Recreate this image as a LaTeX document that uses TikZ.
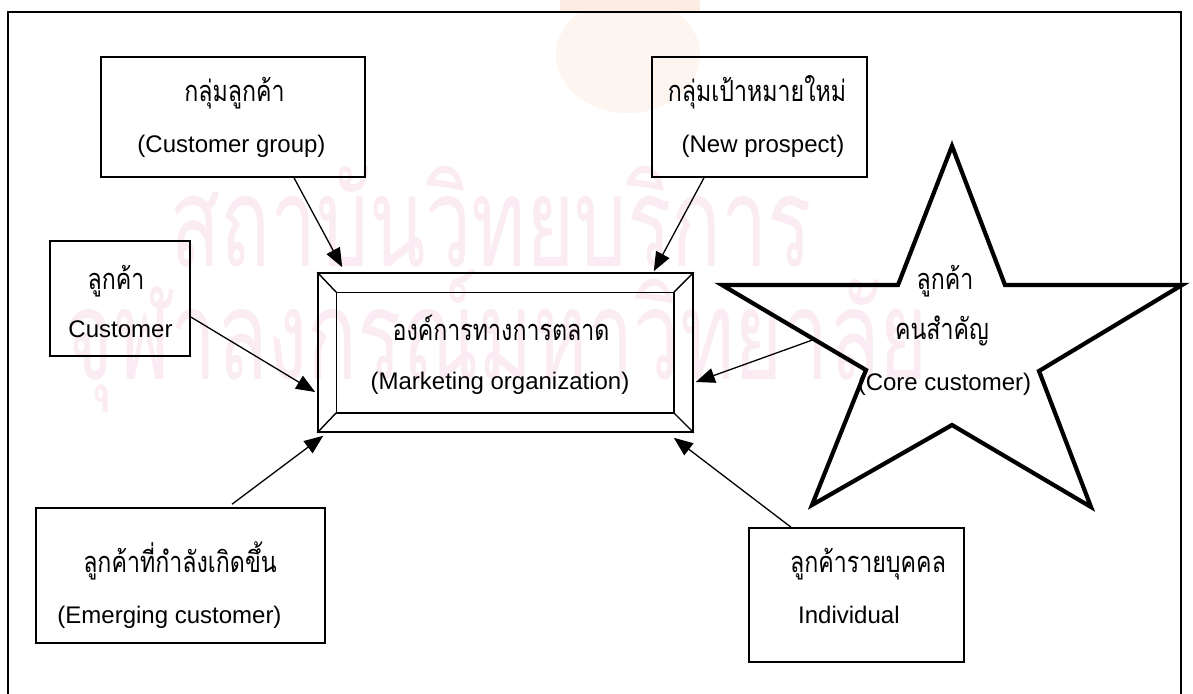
\documentclass[tikz,border=0pt]{standalone}
\usepackage{fontspec}
\setmainfont{Liberation Sans}
\newfontfamily\thaifont[Script=Thai,FakeStretch=0.8]{Loma}
\newfontfamily\wmfont[Script=Thai,FakeStretch=0.66]{Loma}
\newcommand\thaisz{\thaifont\fontsize{29}{33}\selectfont}
\newcommand\latsz{\fontsize{24}{28}\selectfont}
\newcommand\wmsz{\wmfont\fontsize{125}{135}\selectfont}
\usetikzlibrary{arrows.meta,calc}
\definecolor{wmpink}{RGB}{250,236,242}
\definecolor{crest}{RGB}{253,246,240}
\definecolor{crestband}{RGB}{251,236,228}
\begin{document}
\begin{tikzpicture}[x=1pt,y=-1pt,
  frame/.style={draw,line width=1.6pt},
  box/.style={draw,line width=1.6pt,inner sep=0pt},
  bevel/.style={line width=1.4pt},
  starline/.style={line width=4.2pt,line join=miter},
  link/.style={line width=1.3pt,-{Triangle[length=19pt,width=15pt]}},
  thl/.style={inner sep=0pt,anchor=base,font=\thaisz},
  enl/.style={inner sep=0pt,anchor=base,font=\latsz},
  wm/.style={inner sep=0pt,anchor=base,text=wmpink,font=\wmsz}]

\clip (0,0) rectangle (1193,693);
\fill[white] (0,0) rectangle (1193,693);

% faded crest and background lettering
\fill[crest] (628,55) ellipse (72 and 58);
\fill[crestband] (560,0) rectangle (700,11);
\node[wm] (wm1) at (491,266) {สถาบันวิทยบริการ};
\node[wm] (wm2) at (497,379) {จุฬาลงกรณ์มหาวิทยาลัย};

% outer frame
\draw[frame] (8,12) rectangle (1181,712);

% boxes
\node[box,minimum width=264pt,minimum height=120pt] (cg) at (233,117) {};
\node[box,minimum width=215pt,minimum height=120pt] (np) at (759.5,117) {};
\node[box,minimum width=140pt,minimum height=115pt] (cu) at (120,298.5) {};
\node[box,minimum width=375pt,minimum height=159pt] (mo) at (505.5,352.5) {};
\node[box,minimum width=289pt,minimum height=135pt] (em) at (180.5,575.5) {};
\node[box,minimum width=215pt,minimum height=134pt] (iv) at (856.5,595) {};

% bevelled frame of the central box
\coordinate (i1) at ($(mo.north west)+(19,20)$);
\coordinate (i2) at ($(mo.north east)+(-20,20)$);
\coordinate (i3) at ($(mo.south east)+(-20,-20)$);
\coordinate (i4) at ($(mo.south west)+(19,-20)$);
\draw[bevel] (i1) rectangle (i3);
\draw[bevel] (mo.north west) -- (i1) (mo.north east) -- (i2)
             (mo.south east) -- (i3) (mo.south west) -- (i4);

% star
\coordinate (s1) at (952,146);
\coordinate (s2) at (1005,285);
\coordinate (s3) at (1182,285);
\coordinate (s4) at (1039,371);
\coordinate (s5) at (1091,507);
\coordinate (s6) at (952,425);
\coordinate (s7) at (812,505);
\coordinate (s8) at (866,370);
\coordinate (s9) at (722,285);
\coordinate (s10) at (898,285);
\draw[starline] (s1) -- (s2) -- (s3) -- (s4) -- (s5) -- (s6) -- (s7)
  -- (s8) -- (s9) -- (s10) -- cycle;

% labels
\node[thl] (cg-th) at (234.5,101) {กลุ่มลูกค้า};
\node[enl] (cg-en) at (231.5,152) {(Customer group)};
\node[thl] (np-th) at (757,101) {กลุ่มเป้าหมายใหม่};
\node[enl] (np-en) at (763,152) {(New prospect)};
\node[thl] (cu-th) at (116,289) {ลูกค้า};
\node[enl] (cu-en) at (120.5,337) {Customer};
\node[thl] (mo-th) at (501,340) {องค์การทางการตลาด};
\node[enl] (mo-en) at (500,389) {(Marketing organization)};
\node[thl] (co-th1) at (945,289) {ลูกค้า};
\node[thl] (co-th2) at (942,339) {คนสำคัญ};
\node[enl] (co-en) at (944.5,390) {(Core customer)};
\node[thl] (em-th) at (180,572) {ลูกค้าที่กำลังเกิดขึ้น};
\node[enl] (em-en) at (169.5,623) {(Emerging customer)};
\node[thl] (iv-th) at (868,572) {ลูกค้ารายบุคคล};
\node[enl,anchor=base west] (iv-en) at (798,623) {Individual};

% arrows into the marketing organization
\coordinate (cs) at ($(s9)!0.64!(s8)$);
\draw[link] ($(cg.south)+(61,0)$) -- ($(mo.north west)+(25,-5)$);
\draw[link] ($(np.south)+(-55.5,0)$) -- ($(mo.north east)+(-40,-1)$);
\draw[link] ($(cu.east)+(0,18.5)$) -- ($(mo.west)+(-2,39.5)$);
\draw[link] (cs) -- ($(mo.east)+(2,29.5)$);
\draw[link] ($(em.north)+(51.5,-3)$) -- ($(mo.south west)+(6,3)$);
\draw[link] ($(iv.north)+(-65.5,0)$) -- ($(mo.south east)+(-20,5)$);
\end{tikzpicture}
\end{document}
